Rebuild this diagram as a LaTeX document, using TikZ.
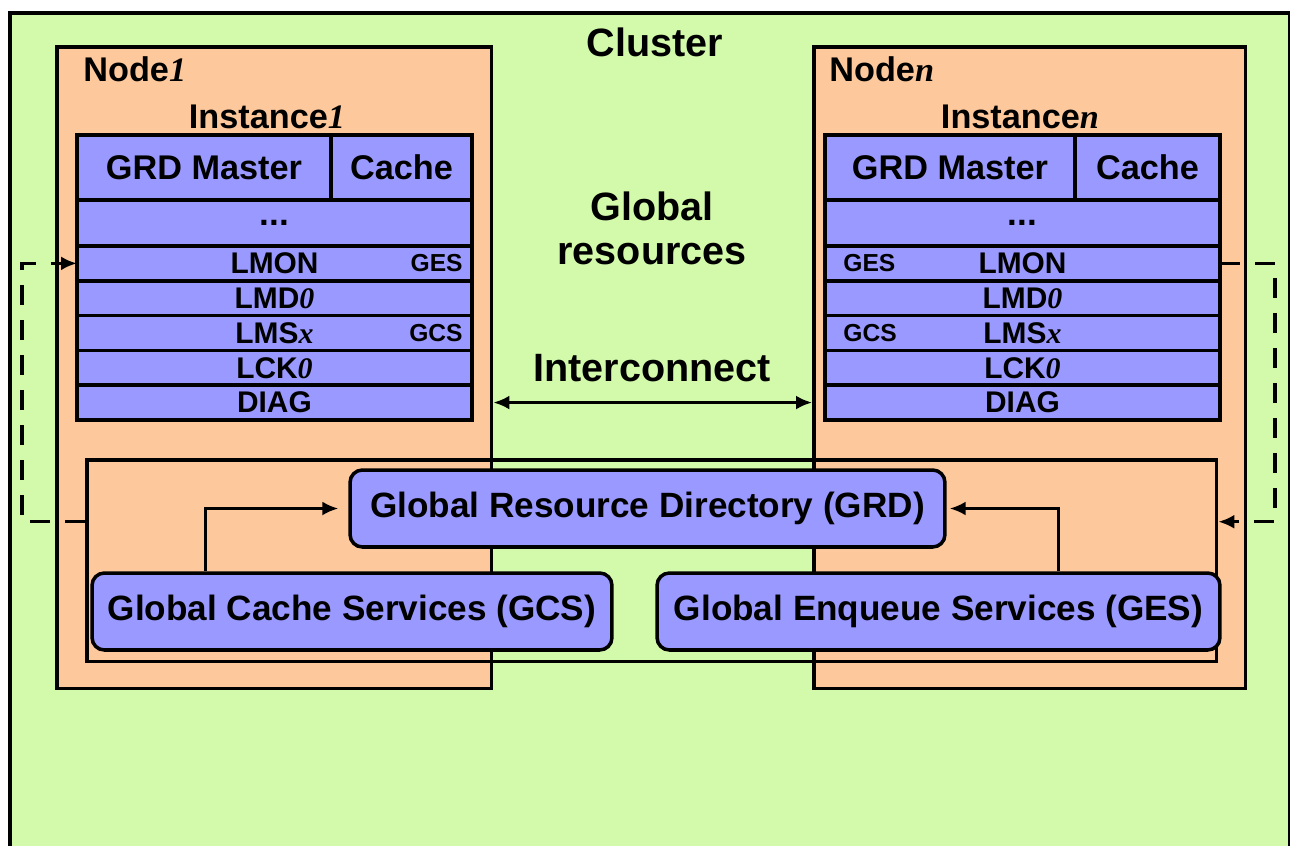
\documentclass[tikz,border=0pt]{standalone}
\usepackage{fontspec}
\setmainfont{Liberation Sans}
\newfontfamily\tmsfont{Liberation Serif}
\usepackage{tikz}
\usetikzlibrary{arrows.meta}
\usetikzlibrary{positioning}
\definecolor{clustergreen}{RGB}{210,250,170}
\definecolor{nodepeach}{RGB}{253,200,155}
\definecolor{procblue}{RGB}{153,153,255}
\newcommand{\ti}[1]{{\tmsfont\bfseries\itshape #1}}

\begin{document}
\begin{tikzpicture}
    [
x=0.02cm, y=-0.02cm,
clusterbox/.style={rectangle, draw=black, fill=clustergreen, line width=2pt, anchor=north west},
nodebox/.style={rectangle, draw=black, fill=nodepeach, line width=2pt, minimum height=12.84cm, anchor=north west},
procrow/.style={rectangle, draw=black, fill=procblue, line width=2pt, outer sep=0pt, inner sep=0pt, minimum width=7.9cm, minimum height=0.696cm, font=\fontsize{17}{17}\selectfont\bfseries},
headrow/.style={procrow, minimum height=1.3cm, font=\fontsize{19.5}{20}\selectfont\bfseries},
tagtext/.style={inner sep=0pt, font=\fontsize{14}{14}\selectfont\bfseries},
lbl/.style={inner sep=0pt, font=\fontsize{19.5}{22}\selectfont\bfseries},
biglbl/.style={inner sep=0pt, align=center, font=\fontsize{22.5}{25}\selectfont\bfseries},
svcbox/.style={rectangle, rounded corners=7pt, draw=black, fill=procblue, line width=2pt, minimum height=1.54cm, font=\fontsize{20}{20}\selectfont\bfseries},
arr/.style={line width=1.6pt, -{Latex[length=3.2mm,width=2.8mm]}},
dashlink/.style={line width=1.8pt, dash pattern=on 0.4cm off 0.3cm, -{Latex[length=3.2mm,width=2.8mm]}}
]
\useasboundingbox (0,0) rectangle (1290,845);
\clip (0,0) rectangle (1290,845);

% cluster and the two machines
\node[clusterbox, minimum width=25.6cm, minimum height=17.5cm](cluster) at (8,11) {};
\node[nodebox, minimum width=8.7cm](node1) at (55,45) {};
\node[nodebox, minimum width=8.64cm](noden) at (812,45) {};

\node[biglbl](clusterlbl) at (655,42) {Cluster};
\node[biglbl](globallbl) at (652,228) {Global\\resources};
\node[biglbl](iclbl) at (652,368) {Interconnect};

\node[lbl, anchor=west](node1lbl) at (83,69) {Node\ti{1}};
\node[lbl, anchor=west](nodenlbl) at (829,69) {Node\ti{n}};
\node[lbl](inst1lbl) at (267,117) {Instance\ti{1}};
\node[lbl](instnlbl) at (1020,117) {Instance\ti{n}};

% instance 1
\node[headrow, minimum width=5.08cm, anchor=north west](master1) at (77,135) {GRD Master};
\node[headrow, minimum width=2.82cm](cache1)[right=0pt of master1] {Cache};
\node[procrow, minimum height=0.92cm, anchor=north west, font=\fontsize{20}{20}\selectfont\bfseries](dots1) at (master1.south west) {...};
\node[procrow](lmon1)[below=0pt of dots1] {LMON};
\node[procrow](lmd1)[below=0pt of lmon1] {LMD\ti{0}};
\node[procrow](lms1)[below=0pt of lmd1] {LMS\ti{x}};
\node[procrow](lck1)[below=0pt of lms1] {LCK\ti{0}};
\node[procrow](diag1)[below=0pt of lck1] {DIAG};
\node[tagtext, anchor=east](ges1)[xshift=-0.18cm] at (lmon1.east) {GES};
\node[tagtext, anchor=east](gcs1)[xshift=-0.18cm] at (lms1.east) {GCS};

% instance n
\node[headrow, minimum width=5.0cm, anchor=north west](mastern) at (825,135) {GRD Master};
\node[headrow, minimum width=2.9cm](cachen)[right=0pt of mastern] {Cache};
\node[procrow, minimum height=0.92cm, anchor=north west, font=\fontsize{20}{20}\selectfont\bfseries](dotsn) at (mastern.south west) {...};
\node[procrow](lmonn)[below=0pt of dotsn] {LMON};
\node[procrow](lmdn)[below=0pt of lmonn] {LMD\ti{0}};
\node[procrow](lmsn)[below=0pt of lmdn] {LMS\ti{x}};
\node[procrow](lckn)[below=0pt of lmsn] {LCK\ti{0}};
\node[procrow](diagn)[below=0pt of lckn] {DIAG};
\node[tagtext, anchor=west](gesn)[xshift=0.36cm] at (lmonn.west) {GES};
\node[tagtext, anchor=west](gcsn)[xshift=0.36cm] at (lmsn.west) {GCS};

% global services
\node[rectangle, draw=black, line width=2pt, minimum width=22.6cm, minimum height=4.04cm, anchor=north west](grdbox) at (85,458) {};
\node[svcbox, minimum width=11.9cm](grd) at (647.5,508.5) {Global Resource Directory (GRD)};
\node[svcbox, minimum width=10.4cm](gcs) at (352,611.5) {Global Cache Services (GCS)};
\node[svcbox, minimum width=11.26cm](ges) at (938.5,611.5) {Global Enqueue Services (GES)};

\coordinate (lbend) at (22,400);
\coordinate (rbend) at (1275,400);

\draw[arr, {Latex[length=3.2mm,width=2.8mm]}-{Latex[length=3.2mm,width=2.8mm]}] (node1.east |- diag1) -- (noden.west |- diagn);
\draw[arr, shorten >=0.2cm] ([xshift=2.3cm]gcs.north west) |- (grd.west);
\draw[arr, shorten >=0.06cm] ([xshift=-3.26cm]ges.north east) |- (grd.east);
\draw[dashlink] ([yshift=0.78cm]grdbox.west) -| (lbend) |- (lmon1.west);
\draw[dashlink] (lmonn.east) -| (rbend) |- ([yshift=0.78cm]grdbox.east);
\end{tikzpicture}
\end{document}
